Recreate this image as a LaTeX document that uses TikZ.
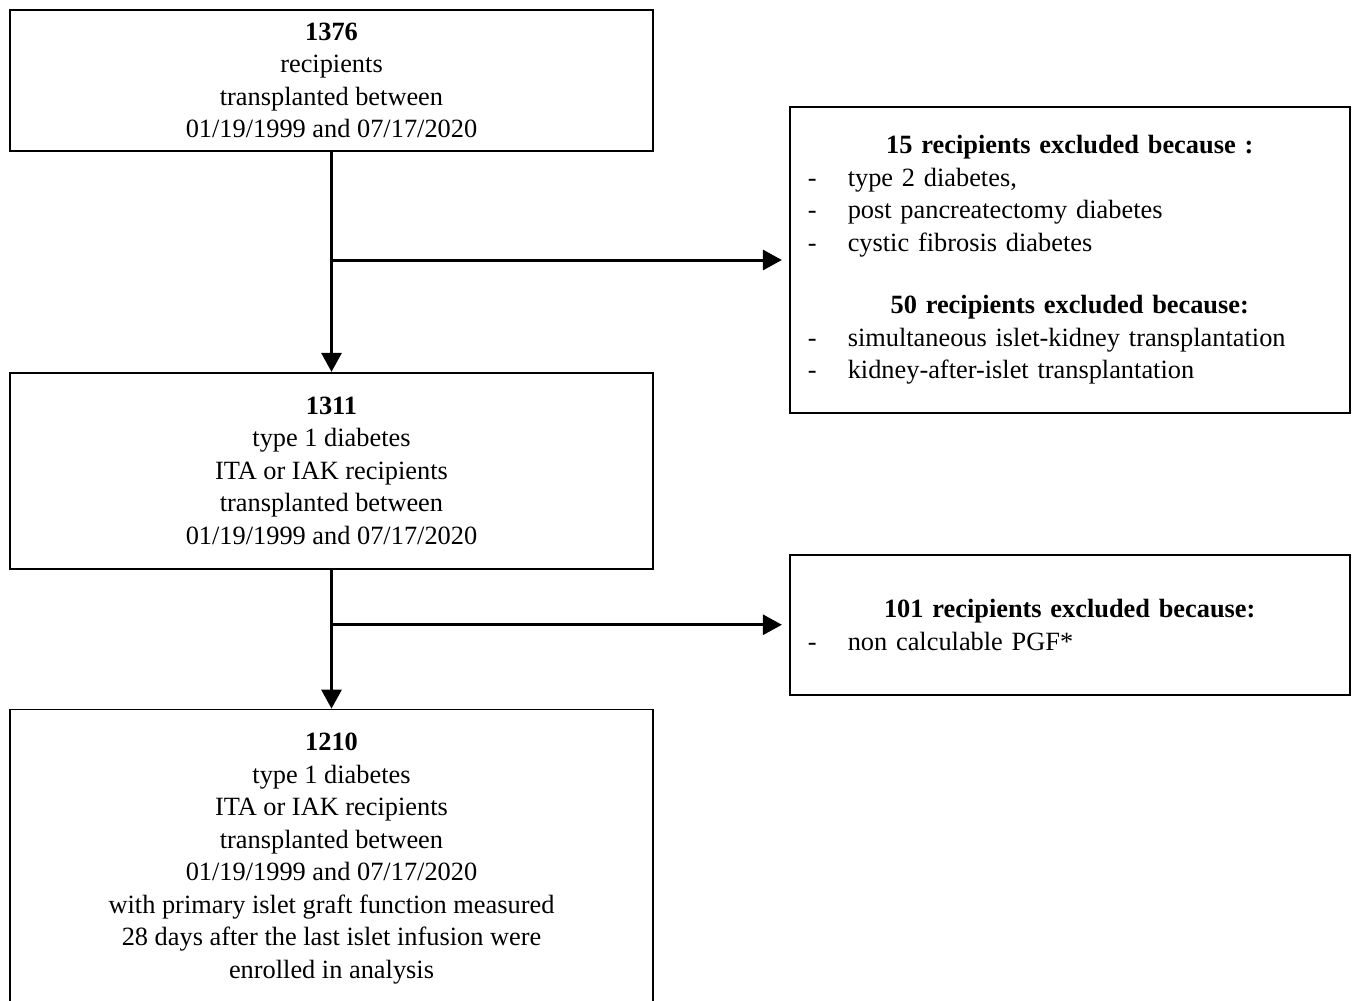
\documentclass[tikz,border=0pt]{standalone}
\usepackage{fontspec}
\setmainfont{Liberation Serif}
\usetikzlibrary{positioning, arrows.meta}

\newcommand{\exclitem}[1]{\makebox[0.8cm][l]{-}#1}
\newcommand{\exclhead}[1]{\makebox[10.48cm]{\textbf{#1}}}

\begin{document}
\begin{tikzpicture}[
    font=\fontsize{15pt}{18.5pt}\selectfont,
    stagebox/.style={rectangle, draw, line width=0.035cm, minimum width=12.86cm, align=center, inner sep=0pt},
    exclbox/.style={rectangle, draw, line width=0.035cm, text width=10.48cm, inner xsep=0.36cm, inner ysep=0pt, align=left},
    flowarrow/.style={-{Triangle[length=0.38cm, width=0.4cm]}, line width=0.06cm}
]
\useasboundingbox (0,0) rectangle (27.08,-20);

% Nodes
\node[stagebox, minimum height=2.82cm] (all) at (6.63,-1.61) {\textbf{1376}\\ recipients\\ transplanted between\\ 01/19/1999 and 07/17/2020};
\node[stagebox, minimum height=3.92cm, below=4.40cm of all] (tone) {\textbf{1311}\\ type 1 diabetes\\ ITA or IAK recipients\\ transplanted between\\ 01/19/1999 and 07/17/2020};
\node[stagebox, minimum height=5.96cm, below=2.78cm of tone] (enrolled) {\textbf{1210}\\ type 1 diabetes\\ ITA or IAK recipients\\ transplanted between\\ 01/19/1999 and 07/17/2020\\ with primary islet graft function measured\\ 28 days after the last islet infusion were\\ enrolled in analysis};

\node[exclbox, minimum height=6.12cm, below right=1.94cm and 2.70cm of all.north east] (excl_first) {\exclhead{15 recipients excluded because :}\\
    \exclitem{type 2 diabetes,}\\
    \exclitem{post pancreatectomy diabetes}\\
    \exclitem{cystic fibrosis diabetes}\\[17pt]
    \exclhead{50 recipients excluded because:}\\
    \exclitem{simultaneous islet-kidney transplantation}\\
    \exclitem{kidney-after-islet transplantation}};
\node[exclbox, minimum height=2.8cm, below right=3.64cm and 2.70cm of tone.north east] (excl_second) {\exclhead{101 recipients excluded because:}\\
    \exclitem{non calculable PGF*}};

\coordinate (split_first) at (all.south |- excl_first.west);
\coordinate (split_second) at (tone.south |- excl_second.west);

% Connections
\draw[flowarrow] (all) -- (tone);
\draw[flowarrow, shorten >=0.14cm] (split_first) -- (excl_first.west);
\draw[flowarrow] (tone) -- (enrolled);
\draw[flowarrow, shorten >=0.14cm] (split_second) -- (excl_second.west);

\end{tikzpicture}
\end{document}
